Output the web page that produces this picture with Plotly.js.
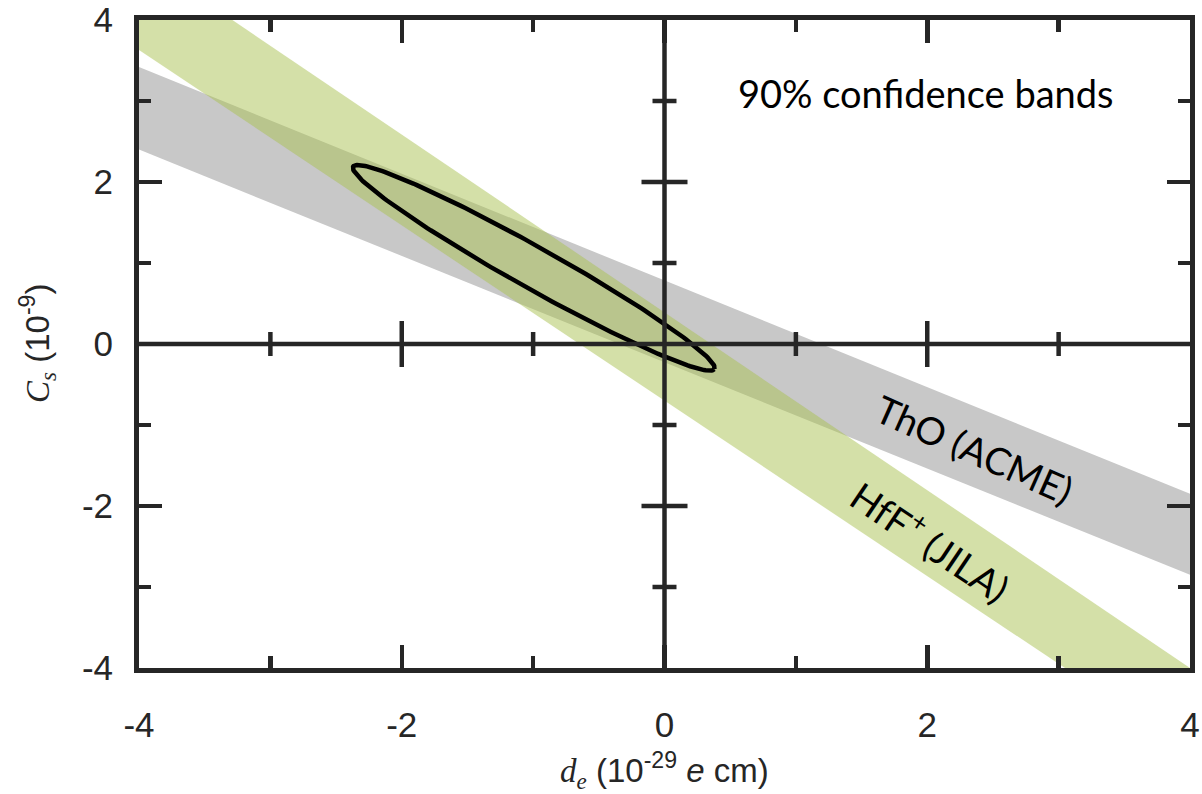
<!DOCTYPE html>
<html>
<head>
<meta charset="utf-8">
<script src="https://cdn.plot.ly/plotly-3.0.1.min.js"></script>
<style>html,body{margin:0;padding:0;background:#fff;}#chart{width:1202px;height:794px;}</style>
</head>
<body>
<div id="chart"></div>
<script>
// ---- data ----
// ThO (ACME) 90% band: edges evaluated at the x-range ends
const thoX = [-4, 4];
const thoUpper = [3.42, -1.85];
const thoLower = [2.40, -2.85];
// HfF+ (JILA) 90% band
const hfX = [-4, 4];
const hfUpper = [4.78, -4.00];
const hfLower = [3.63, -5.03];
// combined 90% ellipse: centre, half major axis vector, half minor axis vector (data units)
const ellipseCenter = [-0.995, 0.94];
const ellipseMajor = [1.375, -1.25];
const ellipseMinor = [-0.078, -0.222];
// ticks
const xTickVals = [-4, -2, 0, 2, 4];
const xTickText = ['-4', '-2', '0', '2', '4'];
const yTickVals = [-4, -2, 0, 2, 4];
const yTickText = ['-4', '-2', '0', '2', '4'];
const xMinorVals = [-3, -1, 1, 3];
const yMinorVals = [-3, -1, 1, 3];

// ---- build ----
const AX = '#262626';
const bandGray = 'rgb(200,200,200)';
const bandGreen = 'rgba(169,193,81,0.5)';

function bandPolygon(xs, up, lo) {
  return { x: [xs[0], xs[1], xs[1], xs[0], xs[0]], y: [up[0], up[1], lo[1], lo[0], up[0]] };
}
const tho = bandPolygon(thoX, thoUpper, thoLower);
const hf = bandPolygon(hfX, hfUpper, hfLower);

const ex = [], ey = [];
for (let i = 0; i <= 240; i++) {
  const t = 2 * Math.PI * i / 240;
  ex.push(ellipseCenter[0] + ellipseMajor[0] * Math.cos(t) + ellipseMinor[0] * Math.sin(t));
  ey.push(ellipseCenter[1] + ellipseMajor[1] * Math.cos(t) + ellipseMinor[1] * Math.sin(t));
}

const traces = [
  { type: 'scatter', mode: 'lines', x: tho.x, y: tho.y, fill: 'toself', fillcolor: bandGray,
    line: { width: 0, color: bandGray }, hoverinfo: 'skip', showlegend: false, name: 'ThO (ACME)' },
  { type: 'scatter', mode: 'lines', x: hf.x, y: hf.y, fill: 'toself', fillcolor: bandGreen,
    line: { width: 0, color: bandGreen }, hoverinfo: 'skip', showlegend: false, name: 'HfF+ (JILA)' },
  { type: 'scatter', mode: 'lines', x: ex, y: ey, line: { width: 4.5, color: '#000' },
    hoverinfo: 'skip', showlegend: false, name: 'combined' }
];

const tickFont = { family: 'Liberation Sans, Arial, sans-serif', size: 35, color: AX };
function axis(vals, text, minor, standoff) {
  return {
    range: [-4, 4], showgrid: false, zeroline: false, showline: true, linewidth: 5, linecolor: AX,
    mirror: 'ticks', ticks: 'inside', ticklen: 23, tickwidth: 4.5, tickcolor: AX,
    tickmode: 'array', tickvals: vals, ticktext: text, tickfont: tickFont,
    ticklabelstandoff: standoff,
    minor: { tickmode: 'array', tickvals: minor, ticks: 'inside', ticklen: 12, tickwidth: 4.5, tickcolor: AX, showgrid: false },
    layer: 'above traces', fixedrange: true, automargin: false
  };
}

const shapes = [
  { type: 'line', xref: 'x', yref: 'y', x0: -4, x1: 4, y0: 0, y1: 0, line: { width: 4.5, color: AX }, layer: 'above' },
  { type: 'line', xref: 'x', yref: 'y', x0: 0, x1: 0, y0: -4, y1: 4, line: { width: 4.5, color: AX }, layer: 'above' }
];
xTickVals.filter(v => v !== 0 && Math.abs(v) < 4).forEach(v => shapes.push(
  { type: 'line', xref: 'x', yref: 'y', x0: v, x1: v, ysizemode: 'pixel', yanchor: 0, y0: -23, y1: 23, line: { width: 4.5, color: AX }, layer: 'above' }));
xMinorVals.forEach(v => shapes.push(
  { type: 'line', xref: 'x', yref: 'y', x0: v, x1: v, ysizemode: 'pixel', yanchor: 0, y0: -12, y1: 12, line: { width: 4.5, color: AX }, layer: 'above' }));
yTickVals.filter(v => v !== 0 && Math.abs(v) < 4).forEach(v => shapes.push(
  { type: 'line', xref: 'x', yref: 'y', y0: v, y1: v, xsizemode: 'pixel', xanchor: 0, x0: -23, x1: 23, line: { width: 4.5, color: AX }, layer: 'above' }));
yMinorVals.forEach(v => shapes.push(
  { type: 'line', xref: 'x', yref: 'y', y0: v, y1: v, xsizemode: 'pixel', xanchor: 0, x0: -12, x1: 12, line: { width: 4.5, color: AX }, layer: 'above' }));

const serifI = 'font-family:Liberation Serif, Times New Roman, serif;font-style:italic';
const labelFont = { family: 'Lato, Open Sans, sans-serif', size: 38, color: '#000' };
const titleFont = { family: 'Liberation Sans, Arial, sans-serif', size: 33, color: AX };
const annotations = [
  { xref: 'paper', yref: 'paper', x: 0.5, y: 0, yanchor: 'middle', xanchor: 'center', yshift: -102, showarrow: false,
    text: '<span style="' + serifI + '">d</span><sub><span style="' + serifI + '">e</span></sub> (10<sup>-29</sup> <i>e</i> cm)',
    font: titleFont },
  { xref: 'paper', yref: 'paper', x: 0, y: 0.5, xanchor: 'center', yanchor: 'middle', xshift: -102, textangle: -90, showarrow: false,
    text: '<span style="' + serifI + '">C</span><sub><span style="' + serifI + '">s</span></sub> (10<sup>-9</sup>)',
    font: titleFont },
  { xref: 'x', yref: 'y', x: 1.99, y: 3.10, showarrow: false, text: '90% confidence bands', font: labelFont },
  { xref: 'x', yref: 'y', x: 2.36, y: -1.30, showarrow: false, text: 'ThO (ACME)', textangle: 24, font: labelFont },
  { xref: 'x', yref: 'y', x: 2.03, y: -2.42, showarrow: false, text: 'HfF<sup>+</sup> (JILA)', textangle: 34, font: labelFont }
];

const layout = {
  width: 1202, height: 794,
  margin: { l: 139, r: 12, t: 20, b: 126 },
  paper_bgcolor: '#fff', plot_bgcolor: '#fff',
  showlegend: false,
  xaxis: axis(xTickVals, xTickText, xMinorVals, 22),
  yaxis: axis(yTickVals, yTickText, yMinorVals, 14),
  shapes: shapes,
  annotations: annotations
};

Plotly.newPlot('chart', traces, layout, { displayModeBar: false, staticPlot: true });
</script>
</body>
</html>
